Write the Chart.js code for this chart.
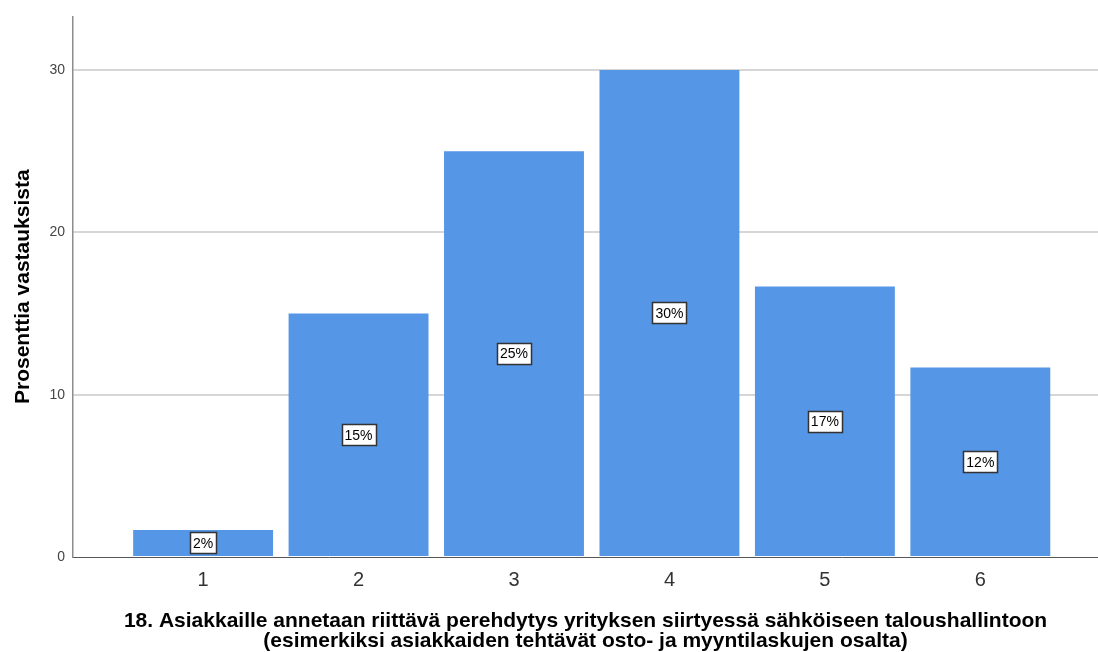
<!DOCTYPE html>
<html>
<head>
<meta charset="utf-8">
<script src="https://cdn.jsdelivr.net/npm/chart.js@4"></script>
<style>
html, body { margin: 0; padding: 0; background: #fff; }
#wrap { width: 1098px; height: 652px; }
</style>
</head>
<body>
<div id="wrap"><canvas id="myChart"></canvas></div>
<script>
// vastausvaihtoehdot ja prosentit
const categories = [1, 2, 3, 4, 5, 6];
const percentages = [1.67, 15, 25, 30, 16.67, 11.67];
const bar_labels = ['2%', '15%', '25%', '30%', '17%', '12%'];
const y_ticks = [0, 10, 20, 30];

const font_family = '"Liberation Sans", Arial, sans-serif';

// valkoiset laatikot palkkien keskelle
const box_labels = {
    id: 'box_labels',
    afterDatasetsDraw(chart) {
        const ctx = chart.ctx;
        const meta = chart.getDatasetMeta(0);
        ctx.save();
        ctx.font = '14px ' + font_family;
        ctx.textAlign = 'center';
        ctx.textBaseline = 'middle';
        meta.data.forEach((bar, i) => {
            const x = bar.x;
            const y = (bar.y + bar.base) / 2;
            const w = Math.round(ctx.measureText(bar_labels[i]).width + 6);
            const h = 21;
            const left = Math.round(x - w / 2);
            const top = Math.round(y - h / 2);
            ctx.fillStyle = '#fff';
            ctx.fillRect(left, top, w, h);
            ctx.strokeStyle = '#333';
            ctx.lineWidth = 1.5;
            ctx.strokeRect(left + 0.5, top + 0.5, w, h);
            ctx.fillStyle = '#000';
            ctx.fillText(bar_labels[i], x, y + 1);
        });
        ctx.restore();
    }
};

const chart_data = {
    datasets: [{
        data: categories.map((c, i) => ({x: c, y: percentages[i]})),
        backgroundColor: '#5596e6',
        borderWidth: 0,
        barPercentage: 0.9,
        categoryPercentage: 1.0,
    }]
};

const chart_config = {
    type: 'bar',
    data: chart_data,
    plugins: [box_labels],
    options: {
        responsive: true,
        maintainAspectRatio: false,
        animation: false,
        layout: { padding: { left: 0, right: 0, top: 15, bottom: 0 } },
        plugins: {
            legend: { display: false },
            tooltip: { enabled: false },
        },
        scales: {
            x: {
                type: 'linear',
                offset: false,
                min: 0.163,
                max: 6.757,
                afterBuildTicks: (scale) => { scale.ticks = categories.map(v => ({value: v})); },
                afterFit: (scale) => { scale.height = 95; },
                grid: { display: false, drawTicks: false },
                border: { color: '#555', width: 1 },
                ticks: {
                    font: { size: 20, family: font_family },
                    color: '#333',
                    padding: 11,
                    callback: (v) => v,
                },
                title: {
                    display: true,
                    text: ['18. Asiakkaille annetaan riittävä perehdytys yrityksen siirtyessä sähköiseen taloushallintoon',
                           '(esimerkiksi asiakkaiden tehtävät osto- ja myyntilaskujen osalta)'],
                    font: { size: 21, weight: 'bold', family: font_family, lineHeight: 20 / 21 },
                    color: '#000',
                    padding: { top: 0, bottom: 1 },
                },
            },
            y: {
                min: 0,
                max: 33.3,
                afterBuildTicks: (scale) => { scale.ticks = y_ticks.map(v => ({value: v})); },
                afterFit: (scale) => { scale.width = 73; },
                grid: {
                    color: (ctx) => ctx.tick && ctx.tick.value === 0 ? 'rgba(0,0,0,0)' : '#d6d6d6',
                    lineWidth: 2,
                    drawTicks: false,
                },
                border: { color: '#8c8c8c', width: 1.5 },
                ticks: {
                    font: { size: 14, family: font_family },
                    color: '#444',
                    padding: 8,
                },
                title: {
                    display: true,
                    text: 'Prosenttia vastauksista',
                    font: { size: 21, weight: 'bold', family: font_family, lineHeight: 20 / 21 },
                    color: '#000',
                    padding: { top: 13, bottom: 0 },
                },
            }
        }
    }
};

const myChart = new Chart(
    document.getElementById('myChart'),
    chart_config
);
</script>
</body>
</html>
